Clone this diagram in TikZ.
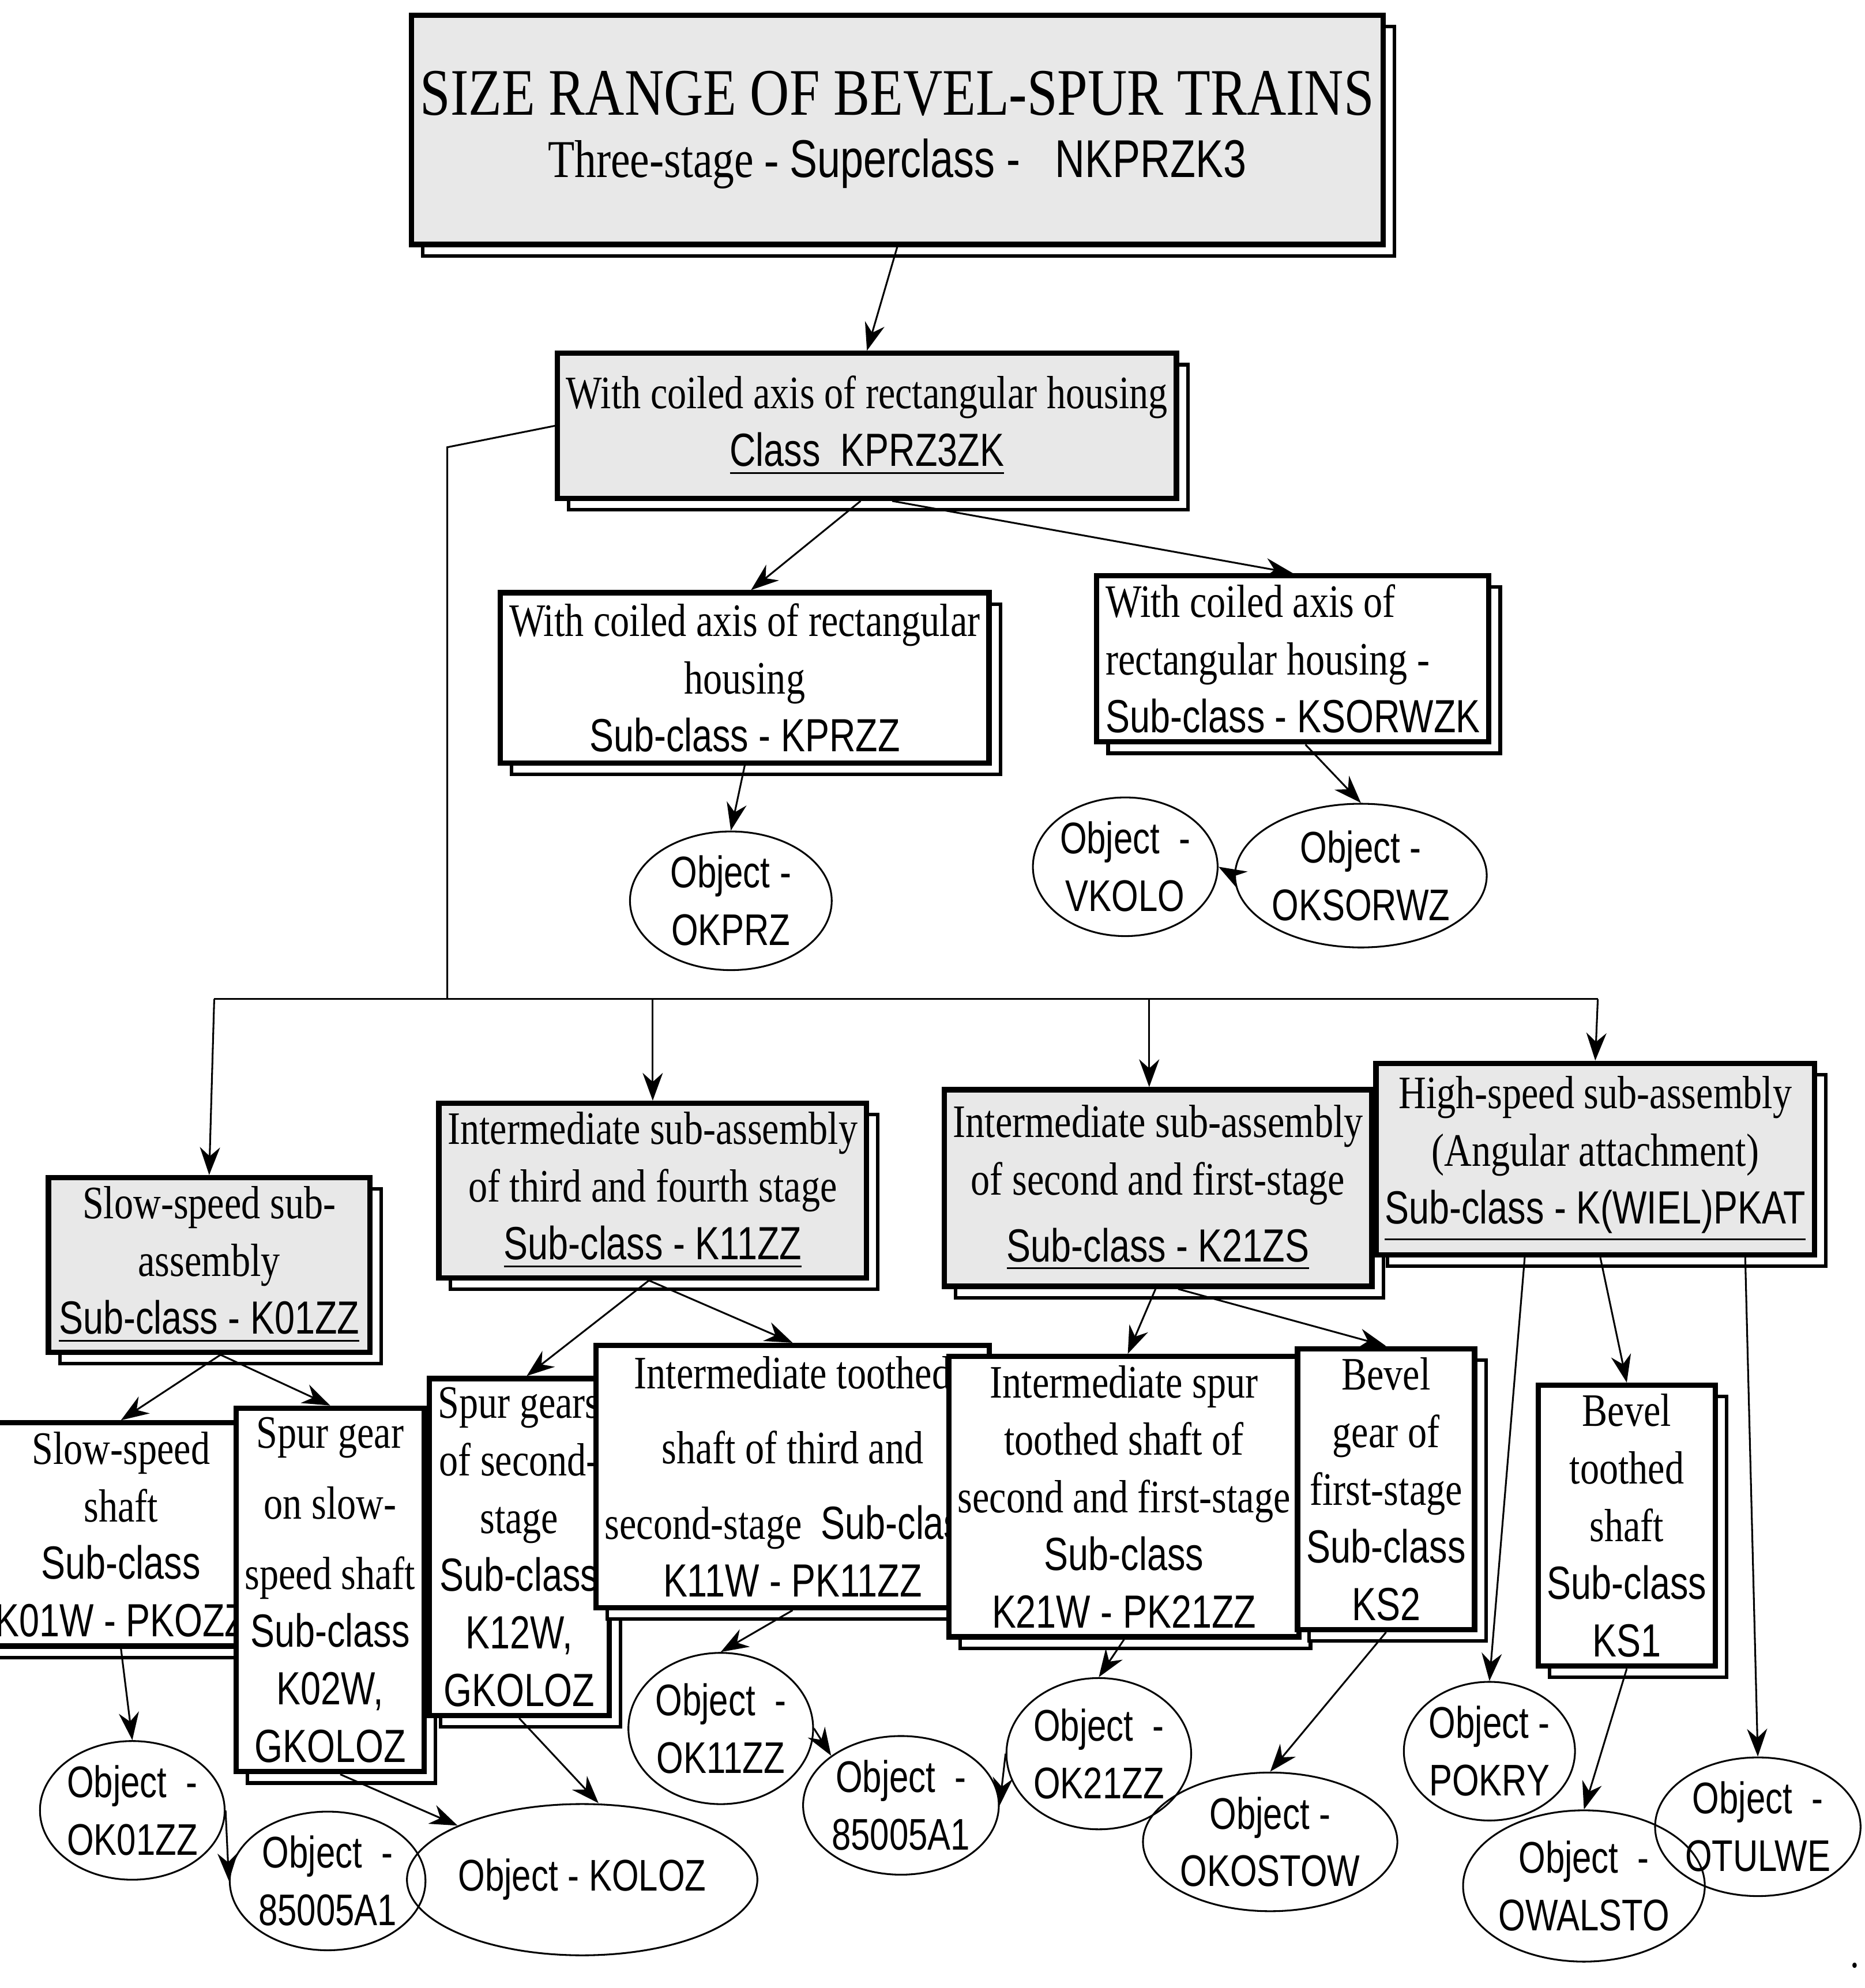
\documentclass[tikz,border=0pt]{standalone}
\usepackage{fontspec}
\setmainfont{Liberation Serif}[FakeStretch=0.82]
\newfontfamily\cond{Liberation Sans}[FakeStretch=0.78]
\usetikzlibrary{positioning,shapes,arrows.meta,shadows,calc}
\tikzset{
  box/.style={draw, very thick, rectangle, fill=white, align=center, inner sep=2pt,
    copy shadow={shadow xshift=0.09cm, shadow yshift=-0.09cm, draw=black, thick, fill=white}},
  gbox/.style={box, fill=gray!18},
  obj/.style={draw, ellipse, align=center, font=\cond\fontsize{10}{13}\selectfont, inner sep=0pt},
  arr/.style={-{Stealth[length=2.2mm,width=1.6mm]}, thin},
  txt/.style={font=\fontsize{10.5}{13}\selectfont}
}
\newcommand{\sanstxt}[1]{{\cond #1}}
\begin{document}
\begin{tikzpicture}[x=0.01cm,y=-0.01cm]
    \useasboundingbox (0,0) rectangle (1480,1578);
    % top levels
    \node (top) [gbox, minimum width=7.4cm, minimum height=1.82cm] at (712,103) {%
        {\fontsize{15}{19}\selectfont SIZE RANGE OF BEVEL-SPUR TRAINS}\\[2pt]
        {\fontsize{12}{15}\selectfont Three-stage - \sanstxt{Superclass - \ \ NKPRZK3}}};
    \node (cls) [gbox, txt, minimum width=4.88cm, minimum height=1.15cm] at (688,338) {%
        With coiled axis of rectangular housing\\ \sanstxt{\underline{Class \ KPRZ3ZK}}};
    \node (kprzz) [box, txt, minimum width=3.45cm, minimum height=1.35cm] at (591,538) {%
        With coiled axis of rectangular\\ housing\\ \sanstxt{Sub-class - KPRZZ}};
    \node (ksor) [box, txt, minimum width=2.75cm, minimum height=1.25cm, align=left] at (1026,523) {%
        With coiled axis of\\ rectangular housing -\\ \sanstxt{Sub-class - KSORWZK}};
    \node (okprz) [obj, minimum width=1.6cm, minimum height=1.1cm] at (580,715) {Object -\\ OKPRZ};
    \node (vkolo) [obj, minimum width=1.44cm, minimum height=1.1cm] at (893,688) {Object \ -\\ VKOLO};
    \node (oksor) [obj, minimum width=1.56cm, minimum height=1.14cm] at (1080,695) {Object -\\ OKSORWZ};
    % sub-assemblies
    \node (slow) [gbox, txt, minimum width=2.55cm, minimum height=1.38cm] at (166,1004) {%
        Slow-speed sub-\\ assembly\\ \sanstxt{\underline{Sub-class - K01ZZ}}};
    \node (k11) [gbox, txt, minimum width=3.18cm, minimum height=1.34cm] at (518,945) {%
        Intermediate sub-assembly\\ of third and fourth stage\\ \sanstxt{\underline{Sub-class - K11ZZ}}};
    \node (k21) [gbox, txt, minimum width=3.24cm, minimum height=1.56cm] at (919,943) {%
        Intermediate sub-assembly\\ of second and first-stage\\[2pt] \sanstxt{\underline{Sub-class - K21ZS}}};
    \node (high) [gbox, txt, minimum width=3.04cm, minimum height=1.52cm] at (1266,920) {%
        High-speed sub-assembly\\ (Angular attachment)\\ \sanstxt{\underline{Sub-class - K(WIEL)PKAT}}};
    % parts
    \node (sshaft) [box, txt, minimum width=1.6cm, minimum height=1.68cm] at (96,1218) {%
        Slow-speed\\ shaft\\ \sanstxt{Sub-class}\\ \sanstxt{K01W - PKOZZ}};
    \node (spslow) [box, txt, minimum width=1.15cm, minimum height=2.8cm] at (262,1262) {%
        Spur gear\\[3pt] on slow-\\[3pt] speed shaft\\ \sanstxt{Sub-class}\\ \sanstxt{K02W,}\\ \sanstxt{GKOLOZ}};
    \node (spsec) [box, txt, minimum width=1.18cm, minimum height=2.42cm] at (412,1228) {%
        Spur gears\\ of second-\\ stage\\ \sanstxt{Sub-class}\\ \sanstxt{K12W,}\\ \sanstxt{GKOLOZ}};
    \node (itooth) [box, txt, minimum width=2.4cm, minimum height=2.08cm] at (629,1172) {%
        Intermediate toothed\\[4pt] shaft of third and\\[4pt] second-stage \ \sanstxt{Sub-class}\\ \sanstxt{K11W - PK11ZZ}};
    \node (ispur) [box, txt, minimum width=2.42cm, minimum height=1.92cm] at (892,1188) {%
        Intermediate spur\\ toothed shaft of\\ second and first-stage\\ \sanstxt{Sub-class}\\ \sanstxt{K21W - PK21ZZ}};
    \node (bgear) [box, txt, minimum width=0.86cm, minimum height=2.2cm] at (1100,1182) {%
        Bevel\\ gear of\\ first-stage\\ \sanstxt{Sub-class}\\ \sanstxt{KS2}};
    \node (btooth) [box, txt, minimum width=1.3cm, minimum height=2.02cm] at (1291,1211) {%
        Bevel\\ toothed\\ shaft\\ \sanstxt{Sub-class}\\ \sanstxt{KS1}};
    % objects
    \node (ok01) [obj, minimum width=1.3cm, minimum height=1.1cm] at (105,1437) {Object \ -\\ OK01ZZ};
    \node (o85a) [obj, minimum width=1.24cm, minimum height=1.1cm] at (260,1493) {Object \ -\\ 85005A1};
    \node (koloz) [obj, minimum width=1.9cm, minimum height=1.2cm] at (462,1492) {Object - KOLOZ};
    \node (ok11) [obj, minimum width=1.4cm, minimum height=1.2cm] at (572,1372) {Object \ -\\ OK11ZZ};
    \node (o85b) [obj, minimum width=1.36cm, minimum height=1.1cm] at (715,1433) {Object \ -\\ 85005A1};
    \node (ok21) [obj, minimum width=1.3cm, minimum height=1.2cm] at (872,1392) {Object \ -\\ OK21ZZ};
    \node (okost) [obj, minimum width=1.7cm, minimum height=1.1cm] at (1008,1462) {Object -\\ OKOSTOW};
    \node (pokry) [obj, minimum width=1.3cm, minimum height=1.1cm] at (1182,1390) {Object -\\ POKRY};
    \node (owals) [obj, minimum width=1.4cm, minimum height=1.2cm] at (1257,1497) {Object \ -\\ OWALSTO};
    \node (otul) [obj, minimum width=1.3cm, minimum height=1.1cm] at (1395,1450) {Object \ -\\ OTULWE};
    \node (dot) at (1472,1560) {.};
    % connectors
    \coordinate (bus) at (355,793);
    \coordinate (busl) at (170,793);
    \coordinate (busr) at (1268,793);
    \draw[arr] (top.south) -- (cls.north);
    \draw[arr] ($(cls.south)+(-5,0)$) -- ($(kprzz.north)+(5,0)$);
    \draw[arr] ($(cls.south)+(20,0)$) -- (ksor.north);
    \draw[arr] (kprzz.south) -- (okprz.north);
    \draw[arr] ($(ksor.south)+(10,0)$) -- (oksor.north);
    \draw[arr] (oksor.west) -- (vkolo.east);
    \draw (cls.west) -- (355,355) -- (bus);
    \draw (busl) -- (busr);
    \draw[arr] (busl) -- (slow.north);
    \draw[arr] (518,793) -- (k11.north);
    \draw[arr] (912,793) -- ($(k21.north)+(-7,0)$);
    \draw[arr] (busr) -- (high.north);
    \draw[arr] ($(slow.south)+(9,0)$) -- (sshaft.north);
    \draw[arr] ($(slow.south)+(9,0)$) -- (spslow.north);
    \draw[arr] ($(k11.south)+(-3,0)$) -- ($(spsec.north)+(6,0)$);
    \draw[arr] ($(k11.south)+(-3,0)$) -- (itooth.north);
    \draw[arr] ($(k21.south)+(-2,0)$) -- ($(ispur.north)+(3,0)$);
    \draw[arr] ($(k21.south)+(16,0)$) -- (bgear.north);
    \draw[arr] ($(high.south)+(-56,0)$) -- (pokry.north);
    \draw[arr] ($(high.south)+(4,0)$) -- (btooth.north);
    \draw[arr] ($(high.south)+(119,0)$) -- (otul.north);
    \draw[arr] (sshaft.south) -- (ok01.north);
    \draw[arr] ($(spslow.south)+(8,0)$) -- (koloz.north west);
    \draw[arr] (spsec.south) -- ($(koloz.north)+(13,0)$);
    \draw[arr] (itooth.south) -- (ok11.north);
    \draw[arr] (ispur.south) -- (ok21.north);
    \draw[arr] (bgear.south) -- (okost.north);
    \draw[arr] (btooth.south) -- (owals.north);
    \draw[arr] (ok01.east) -- (o85a.west);
    \draw[arr] (ok11.east) -- (o85b.north west);
    \draw[arr] (ok21.west) -- (o85b.east);
\end{tikzpicture}
\end{document}
